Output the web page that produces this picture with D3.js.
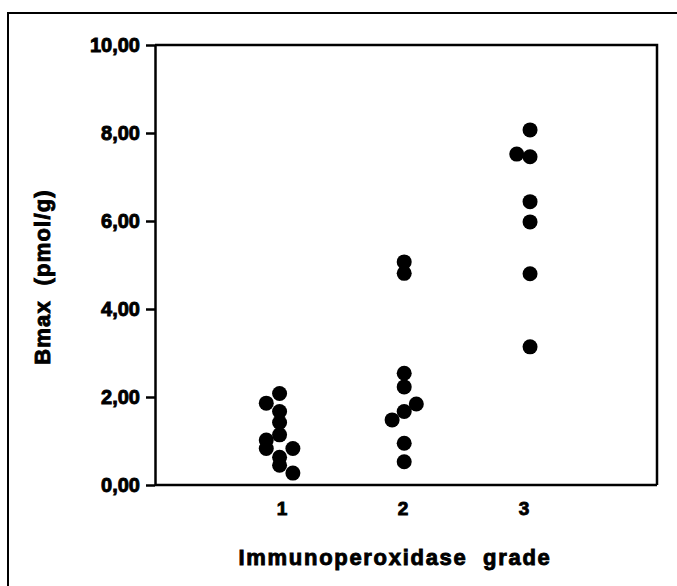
<!DOCTYPE html>
<html>
<head>
<meta charset="utf-8">
<title>Bmax by immunoperoxidase grade</title>
<script src="https://cdn.jsdelivr.net/npm/d3@7"></script>
<style>
  body { margin: 0; background: #fff; }
  text { font-family: "Liberation Sans", Arial, sans-serif; font-weight: bold; fill: #000;
         stroke: #000; stroke-width: 0.9px; }
</style>
</head>
<body>
<svg id="chart"></svg>
<script>
// data (Bmax in pmol/g), jitter = horizontal offset in grade units
let grades = [1, 2, 3];
let grade1 = [2.08, 1.86, 1.67, 1.42, 1.14, 1.02, 0.83, 0.83, 0.63, 0.45, 0.27];
let grade1Jitter = [-0.02, -0.13, -0.02, -0.02, -0.02, -0.13, -0.13, 0.09, -0.02, -0.02, 0.09];
let grade2 = [5.07, 4.81, 2.54, 2.23, 1.84, 1.67, 1.48, 0.95, 0.53];
let grade2Jitter = [0.01, 0.01, 0.01, 0.01, 0.11, 0.01, -0.09, 0.01, 0.01];
let grade3 = [8.07, 7.52, 7.46, 6.44, 5.98, 4.80, 3.14];
let grade3Jitter = [0.05, -0.06, 0.05, 0.05, 0.05, 0.05, 0.05];
let yTicks = [0, 2, 4, 6, 8, 10];

let W = 677, H = 586;
let margin = { top: 45, right: 20, bottom: 101, left: 155 };
let plotW = W - margin.left - margin.right,  // 502
    plotH = H - margin.top - margin.bottom;  // 440

let svg = d3.select("#chart").attr("width", W).attr("height", H);

// outer frame (runs off the right and bottom of the picture)
svg.append("rect")
    .attr("x", 8).attr("y", 13)
    .attr("width", W + 20).attr("height", H + 20)
    .attr("fill", "none").attr("stroke", "#000").attr("stroke-width", 2);

let g = svg.append("g").attr("transform", "translate(" + margin.left + "," + margin.top + ")");

let xScale = d3.scaleLinear().domain([1, 3]).range([127, 369]);
let yScale = d3.scaleLinear().domain([0, 10]).range([plotH, 0]);

// box top + right
g.append("path")
    .attr("d", "M0,0H" + plotW + "V" + plotH)
    .attr("fill", "none").attr("stroke", "#000").attr("stroke-width", 2.5);

// y axis
let yAxis = g.append("g")
    .call(d3.axisLeft(yScale).tickValues(yTicks).tickSize(9).tickSizeOuter(0).tickPadding(6)
        .tickFormat(d => d3.format(".2f")(d).replace(".", ",")));
yAxis.selectAll("path, line").attr("stroke", "#000").attr("stroke-width", 2.5);
yAxis.selectAll("text").style("font-size", "20px").attr("font-family", null).attr("fill", null);

// x axis: baseline only, labels below
g.append("line")
    .attr("x1", 0).attr("x2", plotW).attr("y1", plotH).attr("y2", plotH)
    .attr("stroke", "#000").attr("stroke-width", 2.5);
g.selectAll(".xlab")
    .data(grades).enter().append("text")
    .attr("class", "xlab")
    .attr("x", d => xScale(d))
    .attr("y", plotH + 30)
    .attr("text-anchor", "middle")
    .style("font-size", "19px")
    .text(d => d);

// points
let points = [];
[[grade1, grade1Jitter], [grade2, grade2Jitter], [grade3, grade3Jitter]].forEach(function (s, i) {
    s[0].forEach(function (v, j) {
        points.push({ x: grades[i] + s[1][j], y: v });
    });
});
g.selectAll(".dot")
    .data(points).enter().append("circle")
    .attr("class", "dot")
    .attr("cx", d => xScale(d.x))
    .attr("cy", d => yScale(d.y))
    .attr("r", 7.5)
    .attr("fill", "#000");

// axis titles
svg.append("text")
    .attr("x", 395).attr("y", 565)
    .attr("text-anchor", "middle")
    .style("font-size", "22px").style("letter-spacing", "1.7px")
    .style("white-space", "pre")
    .text("Immunoperoxidase  grade");

svg.append("text")
    .attr("transform", "translate(50,277) rotate(-90)")
    .attr("text-anchor", "middle")
    .style("font-size", "22px").style("letter-spacing", "1.2px")
    .style("white-space", "pre")
    .text("Bmax  (pmol/g)");
</script>
</body>
</html>
